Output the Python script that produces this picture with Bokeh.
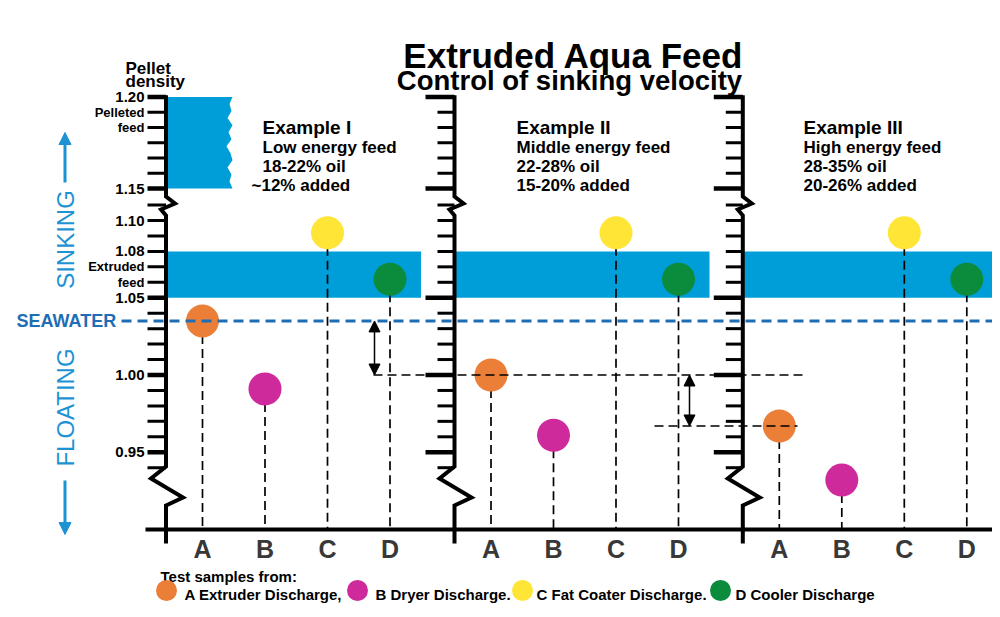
from math import pi
from bokeh.plotting import figure
from bokeh.models import Range1d, Arrow, NormalHead
from bokeh.core.properties import value
from bokeh.embed import file_html
from bokeh.resources import INLINE

# ---------------- data ----------------
samples = ["A", "B", "C", "D"]
sample_names = ["A Extruder Discharge,", "B Dryer Discharge.",
                "C Fat Coater Discharge.", "D Cooler Discharge"]
sample_colors = ["#EB7F38", "#CE2A9B", "#FFE535", "#0B8C3D"]

examples = ["Example I", "Example II", "Example III"]
energy = ["Low energy feed", "Middle energy feed", "High energy feed"]
oil = ["18-22% oil", "22-28% oil", "28-35% oil"]
added = ["~12% added", "15-20% added", "20-26% added"]

density_I = [1.035, 0.991, 1.092, 1.062]
density_II = [1.000, 0.961, 1.092, 1.062]
density_III = [0.967, 0.932, 1.092, 1.062]
densities = [density_I, density_II, density_III]

seawater = 1.035
extruded_band = [1.05, 1.08]
pelleted_band = [1.15, 1.20]

lower_ticks = [1.11, 1.10, 1.09, 1.08, 1.07, 1.06, 1.05, 1.04, 1.03, 1.02,
               1.01, 1.00, 0.99, 0.98, 0.97, 0.96, 0.95, 0.94]
lower_major = [1.05, 1.00, 0.95]
lower_label_vals = [1.10, 1.08, 1.07, 1.06, 1.05, 1.00, 0.95]
lower_label_text = ["1.10", "1.08", "Extruded", "feed", "1.05", "1.00", "0.95"]
upper_label_text = ["1.20", "Pelleted", "feed", "", "", "", "1.15"]

# ---------------- layout helpers ----------------
K = 1545.0      # px per density unit (lower scale)
PY0 = 529.0     # pixel row of density 0.90 (base line)
BASE = 0.90
W, H = 992, 609


def Y(py):
    return BASE + (PY0 - py) / K


def up(d):
    # upper (broken) segment: 1.15 .. 1.20
    return Y(188.0 - (d - 1.15) / 0.05 * 91.5)


AX = [165.5, 454.0, 742.3]     # panel axis positions
DX0, DXS = 36.5, 62.5          # sample offsets inside a panel

FONT = value("Liberation Sans")

p = figure(width=W, height=H, x_range=Range1d(0, W),
           y_range=Range1d(Y(H), Y(0)), output_backend="svg",
           toolbar_location=None, x_axis_type=None, y_axis_type=None,
           min_border=0, outline_line_color=None)
p.background_fill_color = "white"
p.border_fill_color = "white"

BLUE = "#009ED8"
SEA = "#1F6DB5"
LBLUE = "#1E92D3"

# extruded feed bands
p.quad(left=[a + 1.5 for a in AX], right=[a + 255 for a in AX[:2]] + [997],
       bottom=[extruded_band[0]] * 3, top=[extruded_band[1]] * 3,
       fill_color=BLUE, line_color=None)

# pelleted feed band with ragged right edge
rag = [232, 229, 231, 227, 232, 228, 231, 226, 230, 232, 227, 231, 229, 232]
n = len(rag)
px = [167] + rag + [167]
py = [up(pelleted_band[1])] + [up(pelleted_band[1] - (pelleted_band[1] - pelleted_band[0]) * i / (n - 1)) for i in range(n)] + [up(pelleted_band[0])]
p.patch(px, py, fill_color=BLUE, line_color=None)

# stems
xs_all, ys_all, cs_all = [], [], []
for k in range(3):
    for i in range(4):
        x = AX[k] + DX0 + DXS * i
        xs_all.append(x)
        ys_all.append(densities[k][i])
        cs_all.append(sample_colors[i])
p.segment(x0=xs_all, y0=ys_all, x1=xs_all, y1=[BASE] * len(xs_all),
          line_color="black", line_width=1.7, line_dash="9 5")

# base line
p.line([145, 1000], [BASE, BASE], line_color="black", line_width=4)

# panel axes with breaks
axis_x, axis_y = [], []
for a in AX:
    axis_x.append([a, a, a + 9, a - 5, a, a, a - 15, a + 17, a, a])
    axis_y.append([up(1.20) + 0.0012, Y(196), Y(203), Y(209), Y(215), Y(466),
                   Y(478), Y(497), Y(505), Y(543)])
p.multi_line(axis_x, axis_y, line_color="black", line_width=4,
             line_join="miter")

# ticks
up_ticks = [1.15 + 0.05 * j / 6 for j in range(7)]
for k, a in enumerate(AX):
    for j, t in enumerate(up_ticks):
        major = j in (0, 6)
        if k == 0:
            x0 = 147
        else:
            x0 = a - (29 if major else 17)
        p.line([x0, a], [up(t), up(t)], line_color="black",
               line_width=4.5 if major else 3)
    for t in lower_ticks:
        major = t in lower_major
        if k == 0:
            x0 = 147
        else:
            x0 = a - (29 if major else 17)
        p.line([x0, a], [t, t], line_color="black",
               line_width=4.5 if major else 3)

# circles
p.scatter(xs_all, ys_all, size=33, fill_color=cs_all, line_color=None)

# seawater line
p.line([121, 1000], [seawater, seawater], line_color=SEA, line_width=3,
       line_dash="10 6")

# reference dashed lines and arrows
p.line([373, 802], [density_II[0], density_II[0]], line_color="black",
       line_width=1.4, line_dash="9 5")
p.line([654, 797], [density_III[0], density_III[0]], line_color="black",
       line_width=1.4, line_dash="9 5")
for ax_, y0, y1 in [(374, seawater, density_II[0]), (689, density_II[0], density_III[0])]:
    p.add_layout(Arrow(x_start=ax_, y_start=y0, x_end=ax_, y_end=y1,
                       line_width=1.5, line_color="black",
                       start=NormalHead(size=11, fill_color="black", line_color="black"),
                       end=NormalHead(size=11, fill_color="black", line_color="black")))

# sinking / floating arrows
p.add_layout(Arrow(x_start=64.5, y_start=Y(182), x_end=64.5, y_end=Y(132),
                   line_width=3, line_color=LBLUE,
                   end=NormalHead(size=12, fill_color=LBLUE, line_color=LBLUE)))
p.add_layout(Arrow(x_start=64.5, y_start=Y(480), x_end=64.5, y_end=Y(534),
                   line_width=3, line_color=LBLUE,
                   end=NormalHead(size=12, fill_color=LBLUE, line_color=LBLUE)))

# ---------------- texts ----------------
p.text(x=[573], y=[Y(55)], text=["Extruded Aqua Feed"], text_align="center",
       text_baseline="alphabetic", text_font=FONT, text_font_style="bold",
       text_font_size="35px", text_color="black")
p.text(x=[569], y=[Y(80)], text=["Control of sinking velocity"],
       text_align="center", text_baseline="alphabetic", text_font=FONT,
       text_font_style="bold", text_font_size="27.5px", text_color="black")

p.text(x=[125, 125], y=[Y(68), Y(81)], text=["Pellet", "density"],
       text_align="left", text_baseline="alphabetic", text_font=FONT,
       text_font_style="bold", text_font_size="17px", text_color="black")

# left tick labels
num_x, num_y, num_t, wrd_x, wrd_y, wrd_t = [], [], [], [], [], []
for t, lab in zip(up_ticks[::-1], upper_label_text):
    if not lab:
        continue
    if lab[0].isdigit():
        num_x.append(144); num_y.append(up(t)); num_t.append(lab)
    else:
        wrd_x.append(144); wrd_y.append(up(t)); wrd_t.append(lab)
for t, lab in zip(lower_label_vals, lower_label_text):
    if lab[0].isdigit():
        num_x.append(144); num_y.append(t); num_t.append(lab)
    else:
        wrd_x.append(144); wrd_y.append(t); wrd_t.append(lab)
p.text(x=num_x, y=num_y, text=num_t, text_align="right",
       text_baseline="middle", text_font=FONT, text_font_style="bold",
       text_font_size="15px", text_color="black")
p.text(x=wrd_x, y=wrd_y, text=wrd_t, text_align="right",
       text_baseline="middle", text_font=FONT, text_font_style="bold",
       text_font_size="13px", text_color="black")

p.text(x=[16], y=[seawater], text=["SEAWATER"], text_align="left",
       text_baseline="middle", text_font=FONT, text_font_style="bold",
       text_font_size="18px", text_color=SEA)
p.text(x=[65, 65], y=[Y(239), Y(407)], text=["SINKING", "FLOATING"],
       angle=pi / 2, text_align="center", text_baseline="middle",
       text_font=FONT, text_font_size="24px", text_color=LBLUE)

# example descriptions
EXX = [262, 516, 803]
p.text(x=EXX, y=[Y(127)] * 3, text=examples, text_align="left",
       text_baseline="alphabetic", text_font=FONT, text_font_style="bold",
       text_font_size="19px", text_color="black")
for lines, py_ in [(energy, 146.5), (oil, 165.5), (added, 184.5)]:
    xx = list(EXX)
    if lines is added:
        xx[0] = 251
    p.text(x=xx, y=[Y(py_)] * 3, text=lines, text_align="left",
           text_baseline="alphabetic", text_font=FONT,
           text_font_style="bold", text_font_size="17px",
           text_color="black")

# category letters
p.text(x=xs_all, y=[Y(548)] * len(xs_all), text=samples * 3,
       text_align="center", text_baseline="middle", text_font=FONT,
       text_font_style="bold", text_font_size="25px", text_color="#383838")

# legend
p.text(x=[160], y=[Y(576)], text=["Test samples from:"], text_align="left",
       text_baseline="middle", text_font=FONT, text_font_style="bold",
       text_font_size="15px", text_color="black")
LEG_DOT = [166, 357, 522, 720]
LEG_TXT = [184, 375, 536, 735]
p.scatter(LEG_DOT, [Y(590)] * 4, size=21, fill_color=sample_colors,
          line_color=None)
p.text(x=LEG_TXT, y=[Y(594)] * 4, text=sample_names, text_align="left",
       text_baseline="middle", text_font=FONT, text_font_style="bold",
       text_font_size="15px", text_color="black")

open("out.html", "w").write(file_html(p, INLINE))
